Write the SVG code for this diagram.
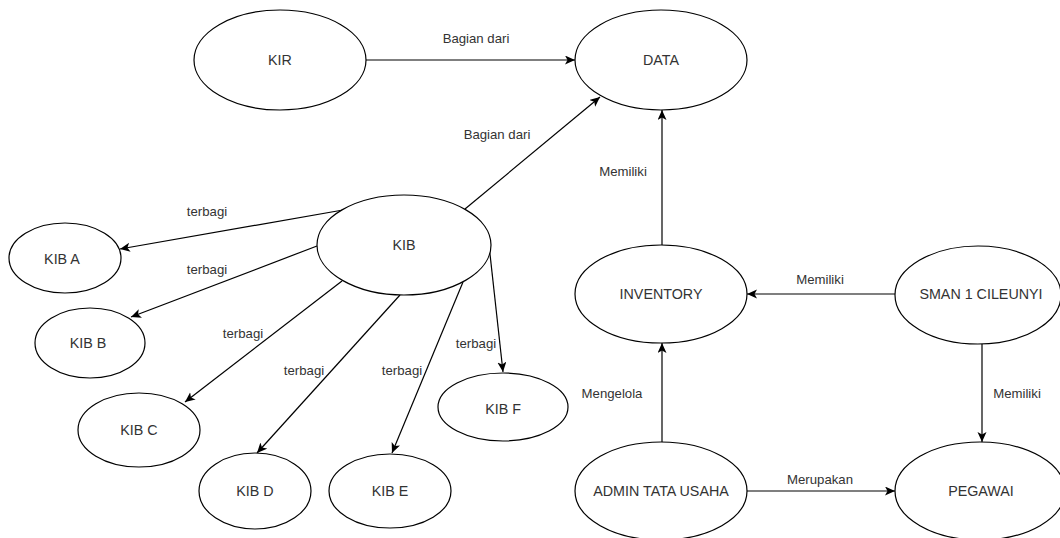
<svg xmlns="http://www.w3.org/2000/svg" width="1060" height="538" viewBox="0 0 1060 538">
  <style>
    .node ellipse { fill: #ffffff; stroke: #000000; stroke-width: 1.2; }
    .node text { font-family: "Liberation Sans", Arial, sans-serif; font-size: 14.3px; fill: #333333; text-anchor: middle; dominant-baseline: central; }
    .edge { fill: none; stroke: #000000; stroke-width: 1.2; marker-end: url(#arrow); }
    .label { font-family: "Liberation Sans", Arial, sans-serif; font-size: 13.2px; fill: #333333; text-anchor: middle; dominant-baseline: central; }
  </style>
  <defs>
    <marker id="arrow" markerUnits="userSpaceOnUse" markerWidth="12" markerHeight="10" refX="10" refY="4.5" orient="auto">
      <path d="M0,0 L10,4.5 L0,9 L2.5,4.5 Z" fill="#000000"/>
    </marker>
  </defs>
  <rect width="1060" height="538" fill="#ffffff"/>

  <g id="connectors">
    <path class="edge" d="M366,60 L575,60"/>
    <path class="edge" d="M465,209 L600,97"/>
    <path class="edge" d="M662,245 L662,110"/>
    <path class="edge" d="M895,294 L747,294"/>
    <path class="edge" d="M662,442 L662,343"/>
    <path class="edge" d="M982,344 L982,442"/>
    <path class="edge" d="M747,491 L895,491"/>
    <path class="edge" d="M343,210 L120,249"/>
    <path class="edge" d="M317,246 L131,317"/>
    <path class="edge" d="M342,281 L185,402"/>
    <path class="edge" d="M400,295 L257,453"/>
    <path class="edge" d="M463,282 L392,453"/>
    <path class="edge" d="M489,245 L503,372"/>

    <text class="label" x="476" y="38">Bagian dari</text>
    <text class="label" x="497" y="134">Bagian dari</text>
    <text class="label" x="623" y="171">Memiliki</text>
    <text class="label" x="820" y="279">Memiliki</text>
    <text class="label" x="612" y="393">Mengelola</text>
    <text class="label" x="1017" y="393">Memiliki</text>
    <text class="label" x="820" y="479">Merupakan</text>
    <text class="label" x="207" y="211">terbagi</text>
    <text class="label" x="207" y="269">terbagi</text>
    <text class="label" x="243" y="333">terbagi</text>
    <text class="label" x="304" y="370">terbagi</text>
    <text class="label" x="402" y="370">terbagi</text>
    <text class="label" x="476" y="343">terbagi</text>
  </g>

  <g id="kir" class="node"><ellipse cx="280" cy="60" rx="86" ry="50"/><text x="280" y="60">KIR</text></g>
  <g id="data" class="node"><ellipse cx="661" cy="60" rx="86" ry="50"/><text x="661" y="60">DATA</text></g>
  <g id="kib" class="node"><ellipse cx="404" cy="245" rx="87" ry="50"/><text x="404" y="245">KIB</text></g>
  <g id="kib-a" class="node"><ellipse cx="65" cy="258" rx="56" ry="35"/><text x="62" y="259">KIB A</text></g>
  <g id="kib-b" class="node"><ellipse cx="90" cy="343" rx="55" ry="35"/><text x="88" y="343">KIB B</text></g>
  <g id="kib-c" class="node"><ellipse cx="139" cy="430" rx="61" ry="37"/><text x="139" y="430">KIB C</text></g>
  <g id="kib-d" class="node"><ellipse cx="255" cy="491" rx="56" ry="38"/><text x="255" y="491">KIB D</text></g>
  <g id="kib-e" class="node"><ellipse cx="390" cy="491" rx="61" ry="37"/><text x="390" y="491">KIB E</text></g>
  <g id="kib-f" class="node"><ellipse cx="503" cy="407" rx="65" ry="34"/><text x="503" y="409">KIB F</text></g>
  <g id="inventory" class="node"><ellipse cx="661" cy="294" rx="86" ry="49"/><text x="661" y="294">INVENTORY</text></g>
  <g id="sman-1-cileunyi" class="node"><ellipse cx="978" cy="295" rx="83" ry="49"/><text x="981" y="294">SMAN 1 CILEUNYI</text></g>
  <g id="admin-tata-usaha" class="node"><ellipse cx="661" cy="491" rx="86" ry="49"/><text x="661" y="491">ADMIN TATA USAHA</text></g>
  <g id="pegawai" class="node"><ellipse cx="980" cy="491" rx="85" ry="49"/><text x="981" y="491">PEGAWAI</text></g>
</svg>
